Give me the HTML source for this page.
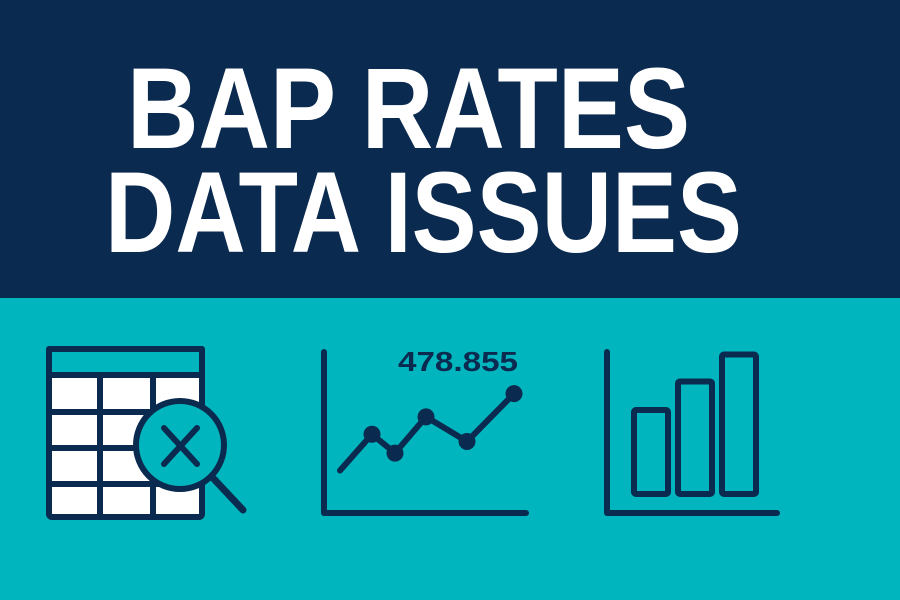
<!DOCTYPE html>
<html><head><meta charset="utf-8"><style>
html,body{margin:0;padding:0;width:900px;height:600px;overflow:hidden;background:#00b5bd}
svg{display:block}
</style></head><body>
<svg width="900" height="600" viewBox="0 0 900 600">
<rect x="0" y="0" width="900" height="298" fill="#0b2a4f"/>
<rect x="0" y="298" width="900" height="302" fill="#00b5bd"/>
<text x="127" y="148" font-family="Liberation Sans, sans-serif" font-weight="bold" font-size="115" fill="#fff" textLength="563" lengthAdjust="spacingAndGlyphs">BAP RATES</text>
<text x="105" y="252" font-family="Liberation Sans, sans-serif" font-weight="bold" font-size="115" fill="#fff" textLength="637" lengthAdjust="spacingAndGlyphs">DATA ISSUES</text>

<g stroke="#0b2a4f" stroke-width="6" stroke-linecap="round" stroke-linejoin="round">
  <rect x="49" y="349" width="153" height="168" rx="3" fill="#fff"/>
  <rect x="49" y="349" width="153" height="26" fill="#00b5bd"/>
  <line x1="100" y1="375" x2="100" y2="517"/>
  <line x1="153" y1="375" x2="153" y2="517"/>
  <line x1="49" y1="412" x2="202" y2="412"/>
  <line x1="49" y1="448" x2="202" y2="448"/>
  <line x1="49" y1="484" x2="202" y2="484"/>
  <line x1="213" y1="478" x2="243" y2="510" stroke-width="7"/>
  <circle cx="180" cy="445" r="44" fill="#00b5bd"/>
  <line x1="164" y1="428" x2="197" y2="464"/>
  <line x1="197" y1="428" x2="164" y2="464"/>
</g>

<g id="line-icon">
  <text x="398" y="371" font-family="Liberation Sans, sans-serif" font-weight="bold" font-size="28" fill="#0b2a4f" textLength="120" lengthAdjust="spacingAndGlyphs">478.855</text>
</g>
<g id="bar-icon"></g>

<script>
const lineX = [0, 1, 2, 3, 4, 5];
const lineValues = [10, 35, 22, 47, 30, 63];
const lineDots = [false, true, true, true, true, true];
const barValues = [50, 67, 83];
const NS = 'http://www.w3.org/2000/svg';
const C = '#0b2a4f';
function mk(tag, attrs, parent){const e=document.createElementNS(NS,tag);for(const k in attrs)e.setAttribute(k,attrs[k]);parent.appendChild(e);return e;}

const lg = document.getElementById('line-icon');
const lx = i => 340 + [0,32,55,86,127,174][i];
const ly = v => 485 - v * 1.45;
const ax1 = mk('path',{d:'M324 352 L324 513 L526 513',fill:'none',stroke:C,'stroke-width':6,'stroke-linecap':'round','stroke-linejoin':'round'},lg);


const pts = lineX.map((x,i)=>lx(x)+','+ly(lineValues[i])).join(' ');
const pl = mk('polyline',{points:pts,fill:'none',stroke:C,'stroke-width':6,'stroke-linecap':'round','stroke-linejoin':'round'},lg);


lineX.forEach((x,i)=>{
  if(!lineDots[i]) return;
  const c = mk('circle',{cx:lx(x),cy:ly(lineValues[i]),r:8.5,fill:C},lg);
  
  
});

const bg = document.getElementById('bar-icon');
const ax2 = mk('path',{d:'M607 352 L607 513 L777 513',fill:'none',stroke:C,'stroke-width':6,'stroke-linecap':'round','stroke-linejoin':'round'},bg);


const by = v => 494 - v * 1.68;
barValues.forEach((v,i)=>{
  const x = 634 + i * 44;
  const r = mk('rect',{x:x,y:by(v),width:34,height:494-by(v),rx:2,fill:'none',stroke:C,'stroke-width':6},bg);
  
  
});
</script>
</svg>
</body></html>
